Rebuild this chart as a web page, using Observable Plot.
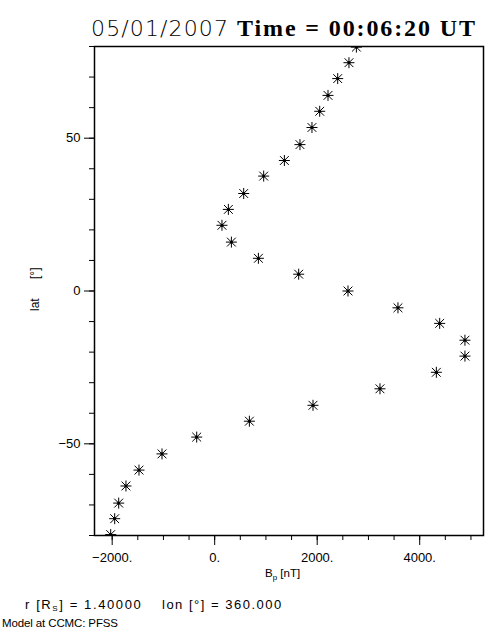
<!DOCTYPE html>
<html>
<head>
<meta charset="utf-8">
<script src="https://cdn.jsdelivr.net/npm/d3@7"></script>
<script src="https://cdn.jsdelivr.net/npm/@observablehq/plot@0.6"></script>
<style>
  html, body { margin: 0; padding: 0; background: #fff; }
  #wrap { position: relative; width: 504px; height: 630px; overflow: hidden; }
  #wrap > svg { position: absolute; left: 0; top: 0; }
  #overlay { pointer-events: none; }
</style>
</head>
<body>
<div id="wrap"></div>
<script>
// Latitude (deg) of each sample, and Bp (nT)
const lat = [79.8, 74.7, 69.5, 64.0, 58.8, 53.5, 47.9, 42.7, 37.6, 31.9, 26.7, 21.5, 16.0, 10.7, 5.5, 0.0,
             -5.5, -10.6, -16.1, -21.3, -26.6, -32.0, -37.4, -42.6, -47.8, -53.3, -58.6, -63.8, -69.4, -74.5, -79.7];
const bp = [2765, 2620, 2400, 2211, 2049, 1898, 1664, 1360, 956, 566, 267, 142, 326, 853, 1639, 2601,
            3576, 4390, 4883, 4883, 4325, 3225, 1918, 677, -351, -1028, -1477, -1731, -1873, -1951, -2029];
const xMajorTicks = [-2000, 0, 2000, 4000];
const xMinorTicks = d3.range(-2000, 5001, 500);
const yMajorTicks = [-50, 0, 50];
const yMinorTicks = d3.range(-80, 81, 10);

const data = lat.map((d, i) => ({lat: d, bp: bp[i]}));

const star = {
  draw(ctx, size) {
    const r = Math.sqrt(size / Math.PI);
    const d = r * 0.8;
    ctx.moveTo(-r, 0); ctx.lineTo(r, 0);
    ctx.moveTo(0, -r); ctx.lineTo(0, r);
    ctx.moveTo(-d, -d); ctx.lineTo(d, d);
    ctx.moveTo(-d, d); ctx.lineTo(d, -d);
  }
};

const fmtX = d => (d < 0 ? "\u2212" : "") + Math.abs(d) + ".";
const fmtY = d => (d < 0 ? "\u2212" : "") + Math.abs(d);

const chart = Plot.plot({
  width: 504,
  height: 630,
  marginLeft: 94,
  marginRight: 21,
  marginTop: 46,
  marginBottom: 95,
  style: {fontFamily: "'Liberation Sans', Arial, sans-serif", fontSize: "13px", color: "#000", background: "#fff"},
  x: {domain: [-2345, 5245]},
  y: {domain: [-80, 80]},
  marks: [
    Plot.axisX({ticks: xMinorTicks, tickSize: 5, text: null, label: null, stroke: "#000"}),
    Plot.axisX({ticks: xMajorTicks, tickSize: 10, tickPadding: 7, tickFormat: fmtX, label: null, stroke: "#000", fill: "#000"}),
    Plot.axisY({ticks: yMinorTicks, tickSize: 5, text: null, label: null, stroke: "#000"}),
    Plot.axisY({ticks: yMajorTicks, tickSize: 10, tickPadding: 4, tickFormat: fmtY, label: null, stroke: "#000", fill: "#000"}),
    Plot.frame({stroke: "#000", strokeWidth: 1.5}),
    Plot.dot(data, {x: "bp", y: "lat", symbol: star, r: 5.5, stroke: "#000", strokeWidth: 1, clip: true}),
    Plot.dot(data, {x: "bp", y: "lat", r: 1.6, fill: "#000", stroke: "none", clip: true})
  ]
});
document.getElementById("wrap").appendChild(chart);

// Text overlay (titles, axis labels, captions)
const ns = "http://www.w3.org/2000/svg";
const ov = document.createElementNS(ns, "svg");
ov.setAttribute("id", "overlay");
ov.setAttribute("width", 504);
ov.setAttribute("height", 630);
ov.innerHTML = `
  <text x="91" y="36" font-family="'DejaVu Sans', sans-serif" font-weight="200" font-size="22" textLength="137" lengthAdjust="spacing">05/01/2007</text>
  <text x="237" y="36" font-family="'Liberation Serif', 'Times New Roman', serif" font-weight="bold" font-size="24" textLength="238" lengthAdjust="spacing">Time = 00:06:20 UT</text>
  <text transform="translate(39,311) rotate(-90)" font-family="'Liberation Sans', sans-serif" font-size="12">lat</text>
  <text transform="translate(39,279) rotate(-90)" font-family="'Liberation Sans', sans-serif" font-size="12">[°]</text>
  <text x="265" y="577" font-family="'Liberation Sans', sans-serif" font-size="11.5">B<tspan font-size="8" dy="3">p</tspan><tspan dy="-3"> [nT]</tspan></text>
  <text x="25" y="609" font-family="'Liberation Sans', sans-serif" font-size="13" letter-spacing="1.6">r [R<tspan font-size="8" dy="2">S</tspan><tspan dy="-2">] = 1.40000</tspan></text>
  <text x="162" y="609" font-family="'Liberation Sans', sans-serif" font-size="13" letter-spacing="1.5">lon [°] = 360.000</text>
  <text x="2" y="627" font-family="'Liberation Sans', sans-serif" font-size="11.5" textLength="116" lengthAdjust="spacing">Model at CCMC: PFSS</text>
`;
document.getElementById("wrap").appendChild(ov);
</script>
</body>
</html>
